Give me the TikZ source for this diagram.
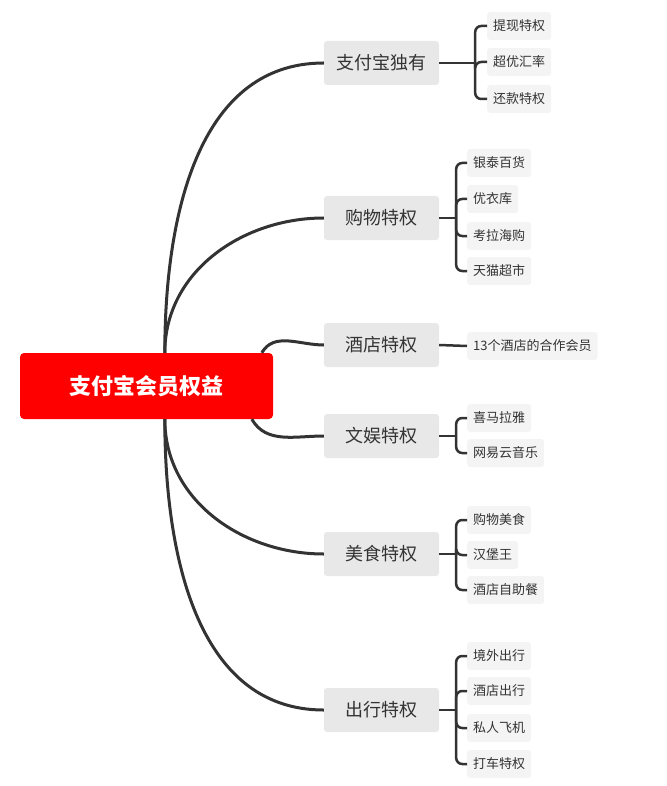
\documentclass[tikz,border=0pt]{standalone}
\usepackage{fontspec}
\setmainfont{Noto Sans CJK SC}
\usetikzlibrary{calc}
\definecolor{lnk}{HTML}{333333}
\definecolor{bx}{HTML}{E8E8E8}
\definecolor{lf}{HTML}{F4F4F4}
\begin{document}
\begin{tikzpicture}[x=1pt,y=-1pt,
  rootbox/.style={fill=red,rounded corners=4pt,minimum width=253pt,minimum height=66pt,text=white,font=\fontsize{22}{24}\selectfont\bfseries},
  brbox/.style={fill=bx,rounded corners=3pt,minimum width=115pt,minimum height=44pt,text=lnk,font=\fontsize{18}{20}\selectfont},
  leafbox/.style={fill=lf,rounded corners=3pt,minimum height=28pt,inner xsep=6pt,text=lnk,font=\fontsize{13}{15}\selectfont,anchor=west},
  main/.style={draw=lnk,line width=3pt},
  brk/.style={draw=lnk,line width=2.5pt,rounded corners=6pt}]
\useasboundingbox (0,0) rectangle (666,786);
\node[rootbox] (root) at (146.5,386) {支付宝会员权益};
\node[brbox] (b1) at (381.5,63) {支付宝独有};
\node[brbox] (b2) at (381.5,218) {购物特权};
\node[brbox] (b3) at (381.5,345) {酒店特权};
\node[brbox] (b4) at (381.5,436) {文娱特权};
\node[brbox] (b5) at (381.5,554) {美食特权};
\node[brbox] (b6) at (381.5,710) {出行特权};
\node[leafbox] (l11) at (487,26) {提现特权};
\node[leafbox] (l12) at (487,62) {超优汇率};
\node[leafbox] (l13) at (487,99) {还款特权};
\node[leafbox] (l21) at (467,163) {银泰百货};
\node[leafbox] (l22) at (467,199) {优衣库};
\node[leafbox] (l23) at (467,236) {考拉海购};
\node[leafbox] (l24) at (467,271) {天猫超市};
\node[leafbox] (l31) at (467,346) {13个酒店的合作会员};
\node[leafbox] (l41) at (467,418) {喜马拉雅};
\node[leafbox] (l42) at (467,453) {网易云音乐};
\node[leafbox] (l51) at (467,520) {购物美食};
\node[leafbox] (l52) at (467,555) {汉堡王};
\node[leafbox] (l53) at (467,590) {酒店自助餐};
\node[leafbox] (l61) at (467,656) {境外出行};
\node[leafbox] (l62) at (467,691) {酒店出行};
\node[leafbox] (l63) at (467,728) {私人飞机};
\node[leafbox] (l64) at (467,764) {打车特权};
\coordinate (rt) at ($(root.north west)+(145,0)$);
\coordinate (rb) at ($(root.south west)+(145,0)$);
\coordinate (rt3) at ($(root.north west)+(242,0)$);
\coordinate (rb4) at ($(root.south west)+(232,0)$);
\draw[main] (rt) to[out=90,in=180] (b1.west);
\draw[main] (rt) to[out=90,in=180] (b2.west);
\draw[main] (rt3) to[out=60,in=180] (b3.west);
\draw[main] (rb4) to[out=-60,in=180] (b4.west);
\draw[main] (rb) to[out=-90,in=180] (b5.west);
\draw[main] (rb) to[out=-90,in=180] (b6.west);
\coordinate (k1) at ($(b1.east)+(36,0)$);
\draw[brk] (b1.east) -- (k1);
\foreach \l in {l11,l12,l13}{\draw[brk] (k1) |- (\l.west);}
\foreach \b/\ls in {b2/{l21,l22,l23,l24},b4/{l41,l42},b5/{l51,l52,l53},b6/{l61,l62,l63,l64}}{
  \coordinate (k) at ($(\b.east)+(17,0)$);
  \draw[brk] (\b.east) -- (k);
  \foreach \l in \ls {\draw[brk] (k) |- (\l.west);}
}
\draw[brk] (b3.east) -- (l31.west);
\end{tikzpicture}
\end{document}
